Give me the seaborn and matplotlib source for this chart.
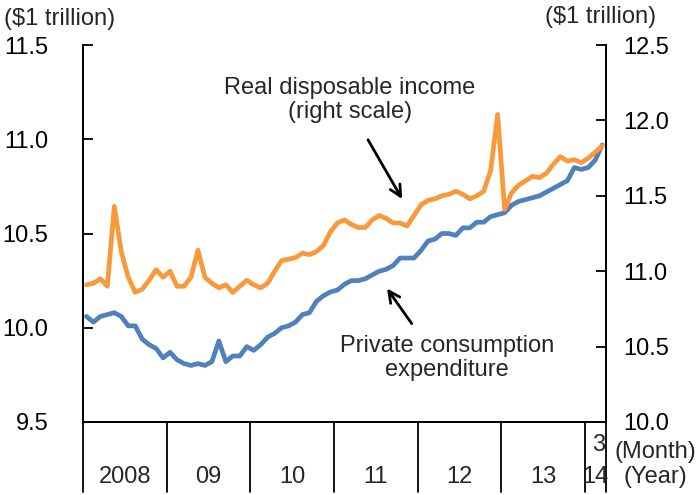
import numpy as np
import pandas as pd
import matplotlib
matplotlib.use("Agg")
import matplotlib.pyplot as plt
import seaborn as sns

# monthly data, Jan 2008 - Mar 2014
consumption = [10.06, 10.03, 10.06, 10.07, 10.08, 10.06, 10.01, 10.01, 9.94, 9.91,
               9.89, 9.84, 9.87, 9.83, 9.81, 9.80, 9.81, 9.80, 9.82, 9.93,
               9.82, 9.85, 9.85, 9.90, 9.88, 9.91, 9.95, 9.97, 10.00, 10.01,
               10.03, 10.07, 10.08, 10.14, 10.17, 10.19, 10.20, 10.23, 10.25, 10.25,
               10.26, 10.28, 10.30, 10.31, 10.33, 10.37, 10.37, 10.37, 10.41, 10.46,
               10.47, 10.50, 10.50, 10.49, 10.53, 10.53, 10.56, 10.56, 10.59, 10.60,
               10.61, 10.65, 10.67, 10.68, 10.69, 10.70, 10.72, 10.74, 10.76, 10.78,
               10.85, 10.84, 10.85, 10.89, 10.97]
income = [10.91, 10.92, 10.95, 10.90, 11.43, 11.13, 10.96, 10.86, 10.88, 10.94,
          11.01, 10.96, 11.00, 10.90, 10.90, 10.96, 11.14, 10.96, 10.92, 10.89,
          10.91, 10.86, 10.90, 10.94, 10.91, 10.89, 10.92, 11.00, 11.07, 11.08,
          11.09, 11.12, 11.11, 11.13, 11.17, 11.26, 11.32, 11.34, 11.31, 11.29,
          11.29, 11.34, 11.37, 11.35, 11.32, 11.32, 11.30, 11.37, 11.44, 11.47,
          11.48, 11.50, 11.51, 11.53, 11.51, 11.48, 11.50, 11.53, 11.67, 12.04,
          11.41, 11.52, 11.57, 11.60, 11.63, 11.62, 11.65, 11.71, 11.76, 11.73,
          11.74, 11.72, 11.75, 11.79, 11.83]
years = ["2008", "09", "10", "11", "12", "13", "14"]
months_in_year = [12, 12, 12, 12, 12, 12, 3]
left_ticks = [9.5, 10.0, 10.5, 11.0, 11.5]
right_ticks = [10.0, 10.5, 11.0, 11.5, 12.0, 12.5]

df = pd.DataFrame({"month": np.arange(len(consumption)),
                   "consumption": consumption, "income": income})

sns.set_style("white")
plt.rcParams["font.family"] = ["Liberation Sans", "DejaVu Sans"]
fs = 17

fig = plt.figure(figsize=(6.97, 4.95), dpi=100)
ax = fig.add_axes([0.119, 0.1475, 0.750, 0.7615])
ax2 = ax.twinx()

sns.lineplot(data=df, x="month", y="consumption", ax=ax, color="#4F81BD", lw=3.4)
sns.lineplot(data=df, x="month", y="income", ax=ax2, color="#F9993A", lw=3.4)

n = len(consumption)
ax.set_xlim(-0.5, n - 0.5)
ax.set_ylim(9.5, 11.5)
ax2.set_ylim(10.0, 12.5)
ax.set_yticks(left_ticks)
ax.set_yticklabels([f"{t:.1f}" for t in left_ticks], fontsize=fs)
ax2.set_yticks(right_ticks)
ax2.set_yticklabels([f"{t:.1f}" for t in right_ticks], fontsize=fs)
ax.set_xticks([])
for a in (ax, ax2):
    a.set_xlabel("")
    a.set_ylabel("")
    a.spines["top"].set_visible(False)
    for s in a.spines.values():
        s.set_color("black")
        s.set_linewidth(1.3)
ax.tick_params(axis="y", direction="in", length=7, width=1.3, pad=25, colors="black")
ax2.tick_params(axis="y", direction="in", length=7, width=1.3, pad=13, colors="black")

# year separators below the axis
trans = ax.get_xaxis_transform()
bounds = np.concatenate([[0], np.cumsum(months_in_year)]) - 0.5
for b in bounds:
    ax.plot([b, b], [0, -0.185], color="black", lw=1.3, transform=trans, clip_on=False)
for i, y in enumerate(years):
    ax.text((bounds[i] + bounds[i + 1]) / 2, -0.146, y, transform=trans,
            ha="center", va="center", fontsize=fs)
ax.text(bounds[-1] - 0.1, -0.062, "3", transform=trans, ha="right", va="center", fontsize=fs)
fig.text(0.94, 0.087, "(Month)", ha="center", va="center", fontsize=fs)
fig.text(0.94, 0.036, "(Year)", ha="center", va="center", fontsize=fs)

fig.text(0.006, 0.962, "($1 trillion)", ha="left", va="center", fontsize=fs)
fig.text(0.862, 0.965, "($1 trillion)", ha="center", va="center", fontsize=fs)

# labels and arrows
ax.text(37.8, 11.21, "Real disposable income\n(right scale)", ha="center", va="center",
        fontsize=fs, linespacing=1.1)
ax.annotate("", xy=(45.5, 10.67), xytext=(40.2, 11.01),
            arrowprops=dict(arrowstyle="->", lw=2, color="black", mutation_scale=20))
ax.text(51.7, 9.84, "Private consumption\nexpenditure", ha="center", va="center",
        fontsize=fs, linespacing=1.1)
ax.annotate("", xy=(42.9, 10.22), xytext=(46.9, 10.01),
            arrowprops=dict(arrowstyle="->", lw=2, color="black", mutation_scale=20))

fig.savefig("out.png", dpi=100)
